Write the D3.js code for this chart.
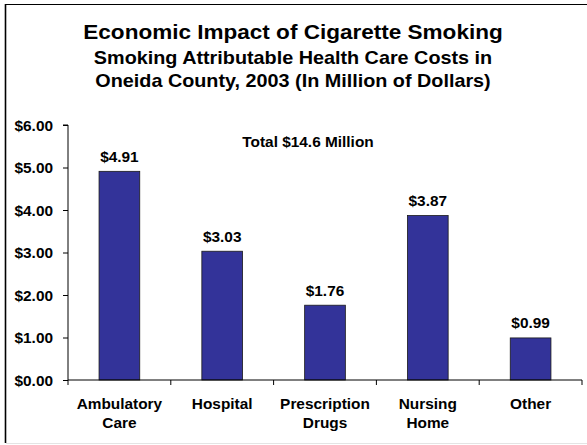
<!DOCTYPE html>
<html>
<head>
<meta charset="utf-8">
<script src="https://cdn.jsdelivr.net/npm/d3@7"></script>
<style>
  html, body { margin: 0; padding: 0; background: #fff; }
  svg { display: block; font-family: "Liberation Sans", Arial, sans-serif; }
</style>
</head>
<body>
<svg id="chart" width="587" height="445"></svg>
<script>
// Smoking attributable health care costs, Oneida County 2003 ($ millions)
const categories = [["Ambulatory", "Care"], ["Hospital"], ["Prescription", "Drugs"], ["Nursing", "Home"], ["Other"]];
const costs = [4.91, 3.03, 1.76, 3.87, 0.99];
const yTicks = [0, 1, 2, 3, 4, 5, 6];
const titleLines = ["Economic Impact of Cigarette Smoking"];
const subtitleLines = ["Smoking Attributable Health Care Costs in", "Oneida County, 2003 (In Million of Dollars)"];
const totalNote = "Total $14.6 Million";

const svg = d3.select("#chart");
const SX = 1.1; // glyphs are drawn slightly wide

function wideText(sel, x, y) {
  return sel.attr("transform", `translate(${x},${y}) scale(${SX},1)`);
}

// frame
svg.append("line").attr("x1", 5.5).attr("x2", 5.5).attr("y1", 4).attr("y2", 443)
  .attr("stroke", "#000").attr("stroke-width", 1.6);
svg.append("line").attr("x1", 5).attr("x2", 587).attr("y1", 4.5).attr("y2", 4.5)
  .attr("stroke", "#000").attr("stroke-width", 1.2);
svg.append("line").attr("x1", 6).attr("x2", 587).attr("y1", 443.5).attr("y2", 443.5)
  .attr("stroke", "#e4e4e4").attr("stroke-width", 1);

// titles
const cx = 293;
titleLines.forEach((t, i) => {
  wideText(svg.append("text"), cx, 39 + i * 24)
    .attr("text-anchor", "middle").attr("font-weight", "bold").attr("font-size", 20.5)
    .attr("fill", "#000").text(t);
});
subtitleLines.forEach((t, i) => {
  wideText(svg.append("text"), cx, 64.3 + i * 22.7)
    .attr("text-anchor", "middle").attr("font-weight", "bold").attr("font-size", 18)
    .attr("fill", "#000").text(t);
});

// scales
const x = d3.scaleBand().domain(d3.range(categories.length)).range([68, 582]).paddingInner(0).paddingOuter(0);
const y = d3.scaleLinear().domain([0, 6]).range([380, 125]);
const barW = x.bandwidth() * 0.396;

// y axis
const yAxis = svg.append("g").attr("transform", "translate(68,0)")
  .call(d3.axisLeft(y).tickValues(yTicks).tickSize(5).tickFormat(d => "$" + d3.format(".2f")(d)));
yAxis.select(".domain").attr("stroke", "#000").attr("d", `M-5,${y(6)}H0V${y(0)}`);
yAxis.selectAll(".tick line").attr("stroke", "#000");
yAxis.selectAll(".tick text").remove();
yAxis.selectAll(".tick").each(function(d) {
  wideText(d3.select(this).append("text"), -15, 5)
    .attr("text-anchor", "end").attr("font-weight", "bold").attr("font-size", 14)
    .attr("fill", "#000").text("$" + d3.format(".2f")(d));
});

// bars
svg.append("g").selectAll("rect").data(costs).join("rect")
  .attr("x", (d, i) => x(i) + (x.bandwidth() - barW) / 2)
  .attr("width", barW)
  .attr("y", d => y(d))
  .attr("height", d => y(0) - y(d))
  .attr("fill", "#333399")
  .attr("stroke", "#1a1a1a").attr("stroke-width", 0.8);

// value labels
svg.append("g").selectAll("text").data(costs).join("text")
  .each(function(d, i) {
    wideText(d3.select(this), x(i) + x.bandwidth() / 2, y(d) - 9.5);
  })
  .attr("text-anchor", "middle").attr("font-weight", "bold").attr("font-size", 14)
  .attr("fill", "#000").text(d => "$" + d3.format(".2f")(d));

// x axis
const xAxisG = svg.append("g").attr("transform", `translate(0,${y(0)})`);
xAxisG.append("path").attr("d", `M68,0H582`).attr("stroke", "#000").attr("fill", "none");
const tickPos = d3.range(categories.length + 1).map(i => 68 + i * x.bandwidth());
xAxisG.selectAll("line.tk").data(tickPos).join("line").attr("class", "tk")
  .attr("x1", d => d).attr("x2", d => d).attr("y1", 0).attr("y2", 5).attr("stroke", "#000");

// category labels
categories.forEach((lines, i) => {
  lines.forEach((t, j) => {
    wideText(svg.append("text"), x(i) + x.bandwidth() / 2, 409 + j * 19)
      .attr("text-anchor", "middle").attr("font-weight", "bold").attr("font-size", 14)
      .attr("fill", "#000").text(t);
  });
});

// total annotation
wideText(svg.append("text"), 308, 146.7)
  .attr("text-anchor", "middle").attr("font-weight", "bold").attr("font-size", 14)
  .attr("fill", "#000").text(totalNote);
</script>
</body>
</html>
